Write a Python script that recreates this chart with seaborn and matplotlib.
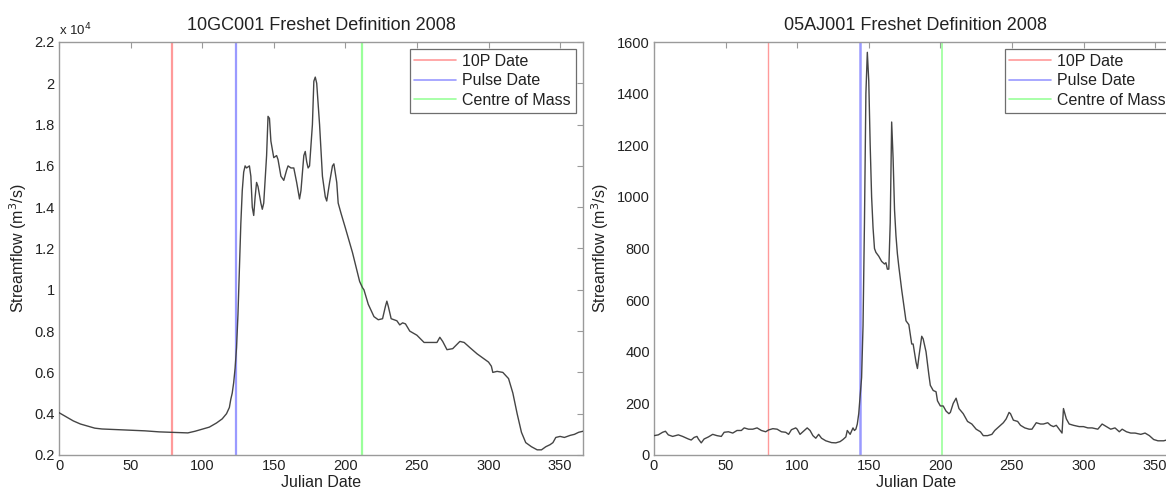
import matplotlib
matplotlib.use("Agg")
import matplotlib.pyplot as plt
import seaborn as sns
import pandas as pd
from matplotlib.ticker import FuncFormatter, MultipleLocator
from matplotlib.lines import Line2D

sns.set_theme(style="white")
plt.rcParams['font.family'] = ['Liberation Sans', 'DejaVu Sans']

# ---------------- data: 10GC001 (m3/s) ----------------
days_10gc = [0, 5, 10, 15, 20, 25, 30, 40, 50, 60, 70, 78, 85, 90, 95, 100, 105, 110,
             114, 117, 119, 120, 121, 122, 123, 124, 125, 126, 127, 128, 129, 130, 131,
             133, 134, 135, 136, 137, 138, 139, 141, 142, 143, 145, 146, 147, 148, 150,
             152, 153, 155, 157, 159, 160, 162, 164, 166, 168, 169, 171, 172, 173, 174,
             175, 177, 178, 179, 180, 182, 184, 186, 187, 189, 191, 192, 194, 195, 197,
             200, 205, 210, 212, 213, 216, 220, 223, 226, 228, 229, 230, 232, 236, 238,
             240, 242, 245, 250, 255, 260, 264, 266, 268, 271, 275, 280, 283, 287, 292,
             298, 300, 302, 303, 306, 310, 314, 317, 320, 323, 326, 330, 334, 337, 340,
             343, 345, 347, 350, 353, 357, 360, 363, 366]
flow_10gc = [4050, 3850, 3650, 3500, 3400, 3300, 3260, 3230, 3200, 3170, 3120, 3100, 3080,
             3070, 3150, 3250, 3350, 3550, 3750, 4000, 4300, 4700, 5000, 5500, 6200, 7200,
             8800, 11000, 13200, 14800, 15700, 16000, 15900, 16000, 15500, 14000, 13600,
             14500, 15200, 15000, 14200, 13900, 14200, 16500, 18400, 18300, 17200, 16400,
             16500, 16300, 15500, 15300, 15800, 16000, 15900, 15900, 15200, 14400, 14800,
             16500, 16700, 16200, 15900, 16000, 18000, 20100, 20300, 20000, 18000, 15500,
             14500, 14300, 15200, 16000, 16100, 15200, 14200, 13700, 13000, 11800, 10400,
             10100, 10000, 9300, 8700, 8550, 8600, 9200, 9450, 9200, 8600, 8500, 8300,
             8400, 8350, 8000, 7800, 7450, 7450, 7450, 7700, 7500, 7100, 7150, 7500, 7450,
             7200, 6900, 6600, 6500, 6300, 6000, 6050, 6000, 5700, 5000, 4000, 3100, 2600,
             2400, 2250, 2250, 2400, 2500, 2600, 2850, 2900, 2850, 2950, 3000, 3100, 3150]

# ---------------- data: 05AJ001 (m3/s) ----------------
days_05aj = [0, 3, 6, 8, 10, 13, 17, 20, 24, 26, 28, 30, 31, 33, 35, 38, 41, 44, 47, 49,
             52, 55, 58, 61, 63, 66, 69, 72, 75, 78, 80, 83, 86, 89, 92, 94, 96, 99, 100,
             102, 105, 107, 109, 111, 113, 115, 117, 120, 124, 127, 130, 132, 134, 135,
             137, 139, 140, 141, 142, 143, 144, 145, 146, 147, 148, 149, 150, 151, 152,
             153, 154, 155, 157, 159, 161, 162, 163, 164, 165, 166, 167, 168, 169, 170,
             171, 173, 175, 176, 178, 180, 181, 183, 184, 185, 187, 188, 190, 192, 193,
             195, 197, 198, 200, 202, 204, 206, 207, 209, 211, 213, 216, 219, 222, 225,
             228, 230, 233, 236, 238, 241, 244, 246, 248, 249, 251, 254, 256, 259, 262,
             264, 267, 270, 272, 275, 277, 279, 281, 283, 285, 286, 288, 290, 293, 297,
             300, 303, 306, 310, 313, 316, 319, 322, 325, 327, 330, 333, 336, 340, 343,
             346, 349, 352, 356, 358, 362, 366]
flow_05aj = [75, 78, 88, 92, 78, 72, 78, 72, 62, 58, 68, 72, 62, 47, 62, 70, 80, 75, 72,
             88, 90, 85, 95, 95, 105, 100, 100, 105, 95, 90, 97, 102, 100, 90, 88, 80, 98,
             105, 100, 80, 95, 105, 95, 75, 65, 80, 65, 55, 48, 47, 52, 60, 70, 95, 80,
             105, 95, 100, 120, 160, 230, 300, 500, 900, 1400, 1560, 1450, 1200, 1000,
             880, 800, 785, 770, 750, 740, 745, 720, 720, 900, 1290, 1150, 950, 850, 780,
             730, 640, 560, 520, 505, 430, 430, 360, 335, 380, 460, 450, 400, 310, 270,
             250, 245, 210, 190, 190, 170, 160, 165, 200, 220, 180, 160, 130, 120, 100,
             90, 75, 75, 80, 95, 110, 125, 140, 165, 160, 135, 130, 115, 105, 100, 100,
             125, 120, 120, 125, 115, 110, 115, 100, 85, 180, 140, 120, 115, 110, 110,
             105, 105, 100, 120, 110, 100, 105, 90, 100, 90, 85, 85, 80, 85, 75, 60, 55,
             55, 58, 58, 60]

titles = ["10GC001 Freshet Definition 2008", "05AJ001 Freshet Definition 2008"]
marker_labels = ["10P Date", "Pulse Date", "Centre of Mass"]
marker_days_10gc = [78.6, 123.7, 211.3]
marker_days_05aj = [79.7, 143.6, 201.2]
marker_colors = ["#ff9a9a", "#9a9aff", "#9aff9a"]

x_label = "Julian Date"
y_label = "Streamflow (m$^3$/s)"

W, H = 1166, 491
fig = plt.figure(figsize=(W / 100, H / 100), dpi=100)
fig.patch.set_facecolor("white")

ax_w = 524 / W
ax_h = 413 / H
ax_b = 1 - 455 / H
ax1 = fig.add_axes([59 / W, ax_b, ax_w, ax_h])
ax2 = fig.add_axes([654 / W, ax_b, ax_w, ax_h])

spine_col = "#9a9a9a"
text_col = "#222222"

panels = [
    (ax1, days_10gc, flow_10gc, marker_days_10gc, titles[0], (2000, 22000), 2000, [1.6, 1.6, 1.6]),
    (ax2, days_05aj, flow_05aj, marker_days_05aj, titles[1], (0, 1600), 200, [1.0, 1.8, 1.2]),
]

for ax, dx, fy, mdays, title, ylim, ystep, lws in panels:
    df = pd.DataFrame({"day": dx, "flow": fy})
    handles = []
    for d, c, lab, lw in zip(mdays, marker_colors, marker_labels, lws):
        ax.axvline(d, color=c, lw=lw, zorder=1)
        handles.append(Line2D([0], [0], color=c, lw=1.2, label=lab))
    sns.lineplot(data=df, x="day", y="flow", ax=ax, color="#454545", lw=1.0,
                 zorder=3, estimator=None)
    ax.set_xlim(0, 366)
    ax.set_ylim(*ylim)
    ax.xaxis.set_major_locator(MultipleLocator(50))
    ax.yaxis.set_major_locator(MultipleLocator(ystep))
    ax.tick_params(direction="in", length=4, width=0.8, color=spine_col,
                   top=True, right=True, labelsize=10.5, labelcolor=text_col, pad=3)
    for s in ax.spines.values():
        s.set_color(spine_col)
        s.set_linewidth(1.0)
    ax.set_title(title, fontsize=13, color=text_col, pad=9)
    ax.set_xlabel(x_label, fontsize=11.5, color=text_col, labelpad=1)
    ax.set_ylabel(y_label, fontsize=11.5, color=text_col, labelpad=4)
    leg = ax.legend(handles=handles, loc="upper right", fontsize=11.5,
                    frameon=True, fancybox=False, framealpha=1,
                    edgecolor="#6e6e6e", handlelength=2.6, handletextpad=0.4,
                    borderpad=0.3, labelspacing=0.28, borderaxespad=0.45)
    leg.get_frame().set_linewidth(0.9)
    for t in leg.get_texts():
        t.set_color(text_col)

ax1.yaxis.set_major_formatter(FuncFormatter(lambda v, p: "%g" % round(v / 1e4, 2)))
ax1.text(0.0, 1.008, "x 10$^4$", transform=ax1.transAxes, fontsize=9.5,
         color=text_col, ha="left", va="bottom")

fig.savefig("out.png", dpi=100, facecolor="white")
